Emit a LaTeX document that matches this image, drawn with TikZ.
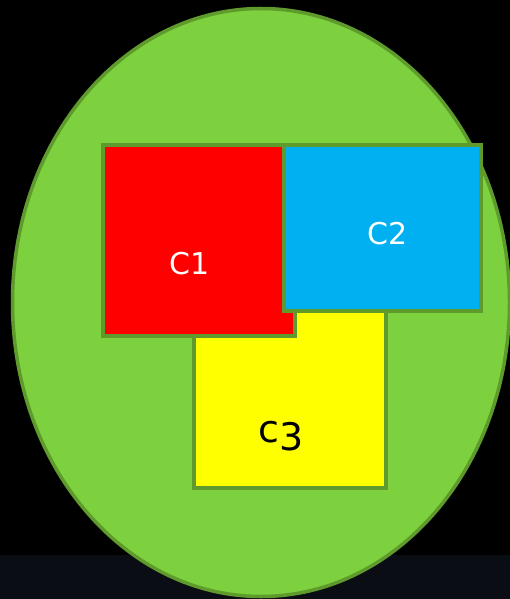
\documentclass[tikz,border=0pt]{standalone}
\usepackage{fontspec}
\setmainfont{DejaVu Sans}
\usetikzlibrary{shapes.geometric}
\definecolor{bgblack}{HTML}{000000}
\definecolor{bandcol}{HTML}{0A0D13}
\definecolor{leaf}{HTML}{7ED13E}
\definecolor{edgegreen}{HTML}{5E9A2C}
\definecolor{redfill}{HTML}{FF0000}
\definecolor{bluefill}{HTML}{00B0F0}
\definecolor{yellowfill}{HTML}{FFFF00}
\tikzset{
  box/.style={rectangle, draw=edgegreen, line width=3.2pt, inner sep=0pt},
  lbl/.style={inner sep=0pt, font=\fontsize{30}{30}\selectfont}
}
\begin{document}
\begin{tikzpicture}[x=1pt,y=-1pt]
\useasboundingbox (0,0) rectangle (510,599);
\clip (0,0) rectangle (510,599);
\fill[bgblack] (0,0) rectangle (510,599);
\fill[bandcol] (0,555) rectangle (510,599);
\node[ellipse, draw=edgegreen, fill=leaf, line width=3.5pt, minimum width=497pt, minimum height=588pt, inner sep=0pt] (outer) at (261,302.5) {};
\node[box, fill=yellowfill, minimum width=192pt, minimum height=192pt] (c3box) at (290,392) {};
\node[box, fill=redfill, minimum width=192pt, minimum height=191pt] (c1box) at (199,240.5) {};
\node[box, fill=bluefill, minimum width=197pt, minimum height=166pt] (c2box) at (382.5,228) {};
\node[lbl, text=white] (c1) at (190,264) {C1};
\node[lbl, text=white] (c2) at (387.5,234) {C2};
\node[inner sep=0pt, font=\fontsize{38}{38}\selectfont, anchor=base] (c3) at (281,442) {c\raisebox{-8pt}{3}};
\end{tikzpicture}
\end{document}
